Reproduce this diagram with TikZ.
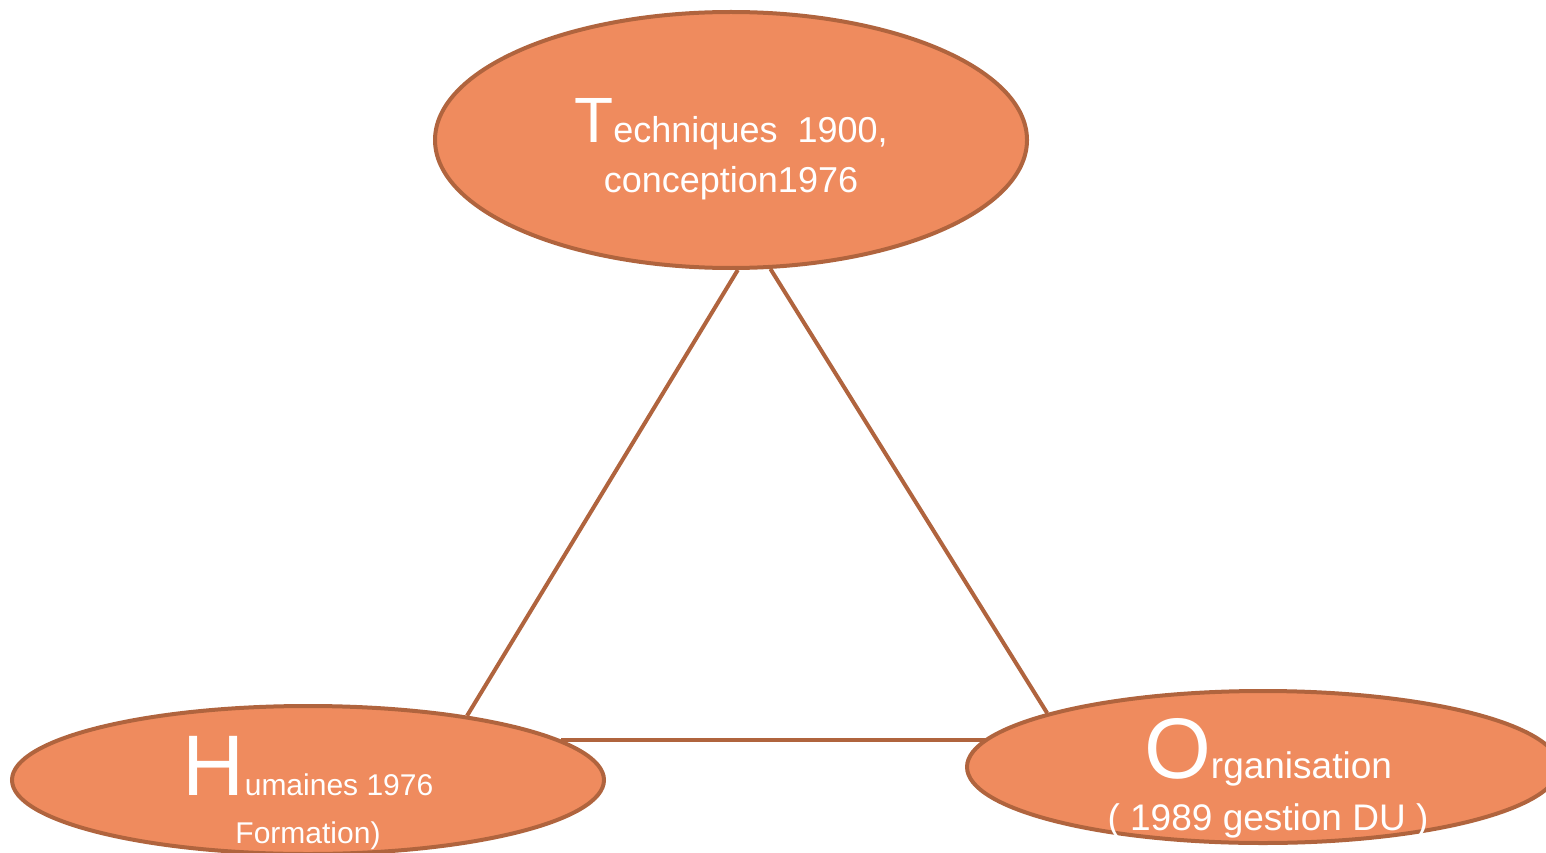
\documentclass[tikz,border=0pt]{standalone}
\usepackage{fontspec}
\setmainfont{Liberation Sans}
\usepackage{tikz}
\usetikzlibrary{positioning,shapes}

\definecolor{pole}{RGB}{239,139,94}
\definecolor{rim}{RGB}{176,100,62}

\newcommand{\initial}[2]{{\fontsize{#1}{#1}\selectfont #2}}

\begin{document}
\begin{tikzpicture} [x=1pt,y=-1pt,
    pole/.style={draw=rim,line width=4pt,fill=pole,ellipse,inner sep=0pt},
    txt/.style={text=white,align=center,inner sep=0pt},
    link/.style={draw=rim,line width=4pt}]
    \useasboundingbox (0,0) rectangle (1546,853);
    \clip (0,0) rectangle (1546,853);

    \node[pole,minimum width=592pt,minimum height=256pt] (tech) at (731,140) {};
    \node[pole,minimum width=592pt,minimum height=148pt] (hum) at (308,780) {};
    \node[pole,minimum width=592pt,minimum height=152pt] (org) at (1263,767) {};

    \node[txt,font=\fontsize{36}{50}\selectfont] (techtxt) at ([yshift=-9pt]tech.center)
        {\initial{64}{T}echniques~~1900,\\conception1976};
    \node[txt,font=\fontsize{30}{48}\selectfont] (humtxt) at ([yshift=-13pt]hum.center)
        {\initial{86}{H}umaines 1976\\Formation)};
    \node[txt,font=\fontsize{37}{52}\selectfont] (orgtxt) at ([xshift=5pt,yshift=-11pt]org.center)
        {\initial{86}{O}rganisation\\( 1989 gestion DU )};

    \path (tech.-87.3) edge [link] (hum.22);
    \path (tech.-73) edge [link] (org.166.95);
    \path (hum.9.2) edge [link] (hum.9.2 -| org.174.35);
\end{tikzpicture}
\end{document}
